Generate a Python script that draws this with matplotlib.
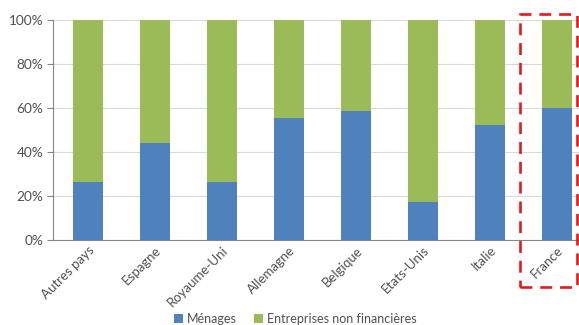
import matplotlib
matplotlib.use("Agg")
import matplotlib.pyplot as plt
from matplotlib.patches import Rectangle
from matplotlib.ticker import PercentFormatter

categories = ["Autres pays", "Espagne", "Royaume-Uni", "Allemagne", "Belgique", "Etats-Unis", "Italie", "France"]
menages = [26.5, 44, 26.5, 55.5, 58.5, 17.5, 52.5, 60]
entreprises = [100 - v for v in menages]
series_names = ["Ménages", "Entreprises non financières"]

blue = "#4F81BD"
green = "#9BBB59"
txt = "#505050"

plt.rcParams['font.family'] = ['Lato', 'DejaVu Sans']

fig = plt.figure(figsize=(5.79, 3.25), dpi=100)
ax = fig.add_axes([53/579, 85/325, 1 - 53/579, 220/325])

x = list(range(len(categories)))
ax.bar(x, menages, width=0.44, color=blue, label=series_names[0], zorder=2)
ax.bar(x, entreprises, width=0.44, bottom=menages, color=green, label=series_names[1], zorder=2)

ax.set_xlim(-0.52, 7.33)
ax.set_ylim(0, 100)
ax.set_yticks([0, 20, 40, 60, 80, 100])
ax.yaxis.set_major_formatter(PercentFormatter(decimals=0))
ax.grid(axis='y', color='#D9D9D9', linewidth=0.8, zorder=0)
ax.set_axisbelow(True)

for s in ['top', 'right']:
    ax.spines[s].set_visible(False)
for s in ['left', 'bottom']:
    ax.spines[s].set_color('#868686')
    ax.spines[s].set_linewidth(0.8)

ax.tick_params(axis='y', length=4, color='#868686', labelsize=9.8, labelcolor=txt, pad=3)
ax.tick_params(axis='x', length=0, labelsize=9.5, labelcolor=txt, pad=3)
ax.set_xticks(x)
ax.set_xticklabels(categories, rotation=45, ha='right', rotation_mode='anchor')

leg = fig.legend(loc='lower center', bbox_to_anchor=(0.51, -0.035), ncol=2, frameon=False,
                 fontsize=9, handlelength=0.7, handleheight=0.7, handletextpad=0.3,
                 columnspacing=1.4)
for t in leg.get_texts():
    t.set_color(txt)

rect = Rectangle((520/579, 38/325), 57/579, 273/325, transform=fig.transFigure,
                 fill=False, edgecolor='#E31A1C', linewidth=1.9, linestyle=(0, (4.5, 3)),
                 clip_on=False)
fig.patches.append(rect)

fig.savefig("out.png", dpi=100)
